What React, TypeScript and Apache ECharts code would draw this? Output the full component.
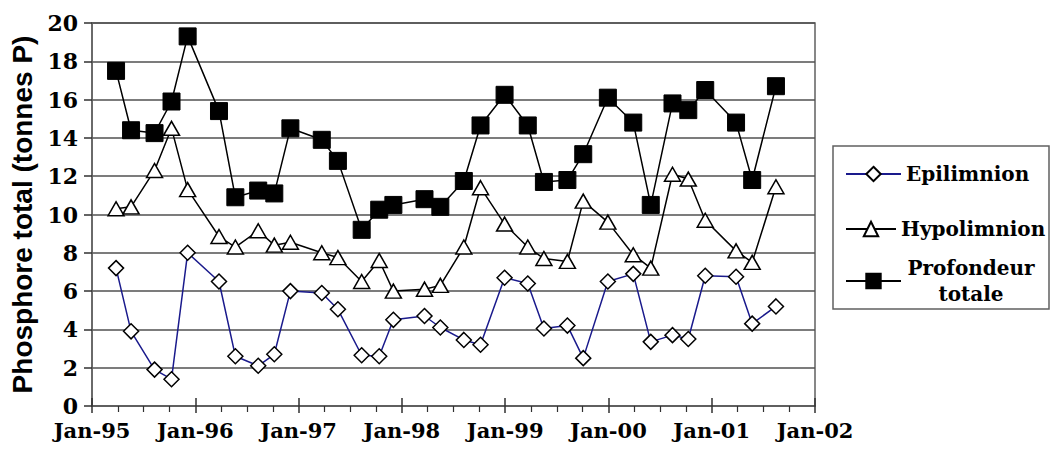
import React, { useEffect, useRef } from "react";
import * as echarts from "echarts";

// Sampling dates
const sampleDates = [
  "1995-03-27", "1995-05-19", "1995-08-10", "1995-10-09", "1995-12-05",
  "1996-03-25", "1996-05-22", "1996-08-11", "1996-10-07", "1996-12-03",
  "1997-03-24", "1997-05-20", "1997-08-12", "1997-10-13", "1997-12-02",
  "1998-03-22", "1998-05-17", "1998-08-08", "1998-10-06", "1998-12-30",
  "1999-03-22", "1999-05-18", "1999-08-09", "1999-10-04", "1999-12-30",
  "2000-03-29", "2000-05-30", "2000-08-15", "2000-10-10", "2000-12-09",
  "2001-03-28", "2001-05-24", "2001-08-16",
];

const epilimnion = [
  7.2, 3.9, 1.9, 1.4, 8.0, 6.5, 2.6, 2.1, 2.7, 6.0, 5.9, 5.05, 2.65, 2.6, 4.5,
  4.7, 4.1, 3.45, 3.2, 6.7, 6.4, 4.05, 4.2, 2.5, 6.5, 6.9, 3.35, 3.7, 3.5, 6.8,
  6.75, 4.3, 5.2,
];

const hypolimnion = [
  10.3, 10.4, 12.3, 14.5, 11.3, 8.85, 8.3, 9.15, 8.4, 8.55, 8.0, 7.75, 6.5, 7.6,
  6.0, 6.1, 6.3, 8.3, 11.4, 9.5, 8.3, 7.7, 7.55, 10.7, 9.6, 7.9, 7.2, 12.1,
  11.85, 9.7, 8.1, 7.5, 11.45,
];

const profondeurTotale = [
  17.5, 14.4, 14.25, 15.9, 19.3, 15.4, 10.9, 11.25, 11.1, 14.5, 13.9, 12.8, 9.2,
  10.25, 10.5, 10.8, 10.4, 11.75, 14.65, 16.25, 14.65, 11.7, 11.8, 13.15, 16.1,
  14.8, 10.5, 15.8, 15.45, 16.5, 14.8, 11.8, 16.7,
];

const xTickLabels = ["Jan-95", "Jan-96", "Jan-97", "Jan-98", "Jan-99", "Jan-00", "Jan-01", "Jan-02"];
const seriesNames = ["Epilimnion", "Hypolimnion", "Profondeur totale"];
const yAxisTitle = "Phosphore total (tonnes P)";

const X_START = 1995;
const X_END = 2002;

function toDecimalYear(s: string): number {
  const [y, m, d] = s.split("-").map(Number);
  const start = Date.UTC(y, 0, 1);
  const end = Date.UTC(y + 1, 0, 1);
  return y + (Date.UTC(y, m - 1, d) - start) / (end - start);
}

const SERIF = "DejaVu Serif";

export default function App() {
  const ref = useRef<HTMLDivElement>(null);

  useEffect(() => {
    if (!ref.current) return;
    const chart = echarts.init(ref.current, undefined, { renderer: "svg" });
    const xs = sampleDates.map(toDecimalYear);
    const pairs = (vals: number[]) => vals.map((v, i) => [xs[i], v]);

    const legendText = {
      fontFamily: SERIF,
      fontWeight: "bold" as const,
      fontSize: 20,
      color: "#000",
      lineHeight: 18,
    };

    const option: any = {
      animation: false,
      backgroundColor: "#fff",
      grid: {
        left: 92,
        top: 23,
        width: 723,
        height: 383,
        show: true,
        borderColor: "#606060",
        borderWidth: 1.5,
        backgroundColor: "transparent",
      },
      xAxis: [
        {
          type: "value",
          min: X_START,
          max: X_END,
          interval: 1,
          axisLine: { show: true, lineStyle: { color: "#606060", width: 1.5 } },
          axisTick: { show: true, inside: false, length: 7, lineStyle: { color: "#303030", width: 1.5 } },
          minorTick: { show: true, splitNumber: 4, length: 6, lineStyle: { color: "#303030", width: 1.2 } },
          splitLine: { show: false },
          axisLabel: {
            margin: 14,
            fontFamily: SERIF,
            fontWeight: "bold",
            fontSize: 21,
            color: "#000",
            formatter: (v: number) => xTickLabels[Math.round(v - X_START)] ?? "",
          },
        },
        {
          type: "value",
          min: X_START,
          max: X_END,
          interval: 1,
          position: "bottom",
          axisLine: { show: false },
          axisTick: { show: true, inside: true, length: 8, lineStyle: { color: "#303030", width: 1.5 } },
          axisLabel: { show: false },
          splitLine: { show: false },
        },
      ],
      yAxis: {
        type: "value",
        min: 0,
        max: 20,
        interval: 2,
        name: yAxisTitle,
        nameLocation: "middle",
        nameGap: 50,
        nameTextStyle: {
          fontFamily: "Liberation Sans",
          fontWeight: "bold",
          fontSize: 28,
          color: "#000",
        },
        axisLine: { show: true, lineStyle: { color: "#606060", width: 1.5 } },
        axisTick: { show: true, inside: false, length: 8, lineStyle: { color: "#303030", width: 1.5 } },
        splitLine: { show: true, lineStyle: { color: "#505050", width: 1.5 } },
        axisLabel: {
          margin: 14,
          fontFamily: SERIF,
          fontWeight: "bold",
          fontSize: 22,
          color: "#000",
        },
      },
      legend: [
        {
          data: [seriesNames[0]],
          orient: "vertical",
          left: 845,
          top: 164,
          padding: 0,
          itemWidth: 55,
          itemHeight: 18,
          textStyle: legendText,
        },
        {
          data: [seriesNames[1]],
          orient: "vertical",
          left: 845,
          top: 219,
          padding: 0,
          itemWidth: 50,
          itemHeight: 18,
          textStyle: legendText,
        },
        {
          data: [seriesNames[2]],
          orient: "vertical",
          left: 845,
          top: 255,
          padding: 0,
          itemWidth: 55,
          itemHeight: 18,
          formatter: () => "{a|Profondeur}\n{a|totale}",
          textStyle: {
            ...legendText,
            rich: {
              a: {
                fontFamily: SERIF,
                fontWeight: "bold",
                fontSize: 20,
                color: "#000",
                width: 130,
                align: "center",
                lineHeight: 26,
              },
            },
          },
        },
      ],
      graphic: [
        {
          type: "rect",
          shape: { x: 833, y: 146, width: 216, height: 163 },
          style: { fill: "none", stroke: "#606060", lineWidth: 1.5 },
          silent: true,
        },
      ],
      series: [
        {
          name: seriesNames[0],
          type: "line",
          data: pairs(epilimnion),
          symbol: "diamond",
          symbolSize: [15, 15],
          lineStyle: { color: "#1a1a8c", width: 1.5 },
          itemStyle: { color: "#ffffff", borderColor: "#000", borderWidth: 1.5 },
          z: 3,
        },
        {
          name: seriesNames[1],
          type: "line",
          data: pairs(hypolimnion),
          symbol: "triangle",
          symbolSize: [16, 14],
          lineStyle: { color: "#000", width: 1.5 },
          itemStyle: { color: "#ffffff", borderColor: "#000", borderWidth: 1.5 },
          z: 4,
        },
        {
          name: seriesNames[2],
          type: "line",
          data: pairs(profondeurTotale),
          symbol: "rect",
          symbolSize: 17,
          lineStyle: { color: "#000", width: 1.5 },
          itemStyle: { color: "#000", borderColor: "#000", borderWidth: 1 },
          z: 5,
        },
      ],
    };

    chart.setOption(option);
    return () => chart.dispose();
  }, []);

  return (
    <div
      ref={ref}
      style={{ position: "fixed", left: 0, top: 0, width: 1051, height: 452, background: "#fff" }}
    />
  );
}
